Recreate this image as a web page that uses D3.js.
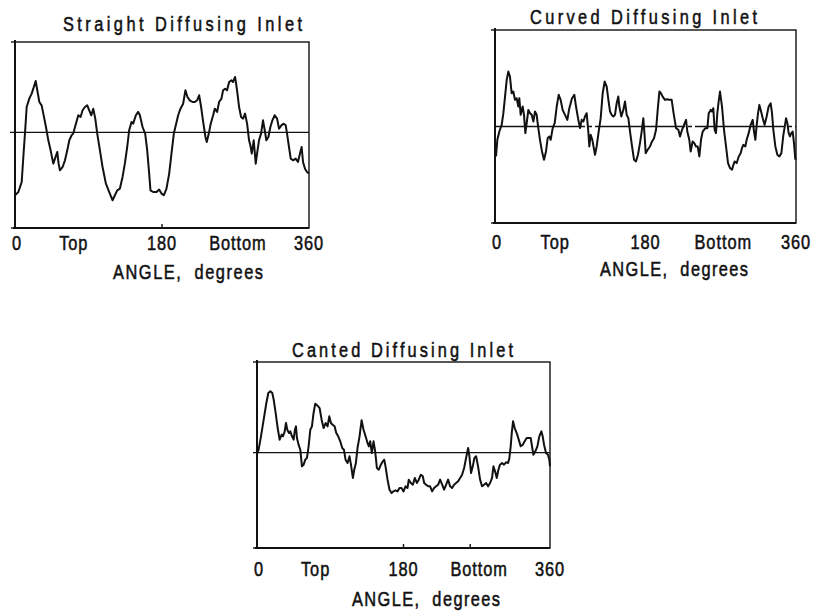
<!DOCTYPE html>
<html><head><meta charset="utf-8">
<script src="https://cdn.jsdelivr.net/npm/d3@7"></script>
<style>
body{margin:0;background:#fff}
svg{display:block}
text{font-family:"Liberation Sans","DejaVu Sans",sans-serif;fill:#111;stroke:#111;stroke-width:0.55px}
</style>
</head><body>
<svg id="c" width="819" height="612"></svg>
<script>
// ---------- data ----------
const titles = ["Straight Diffusing Inlet", "Curved Diffusing Inlet", "Canted Diffusing Inlet"];
const axisTitle = "ANGLE,  degrees";
const tickValues = [0, 72, 180, 273, 360];
const tickLabels = ["0", "Top", "180", "Bottom", "360"];
const yDomains = [[-102.9, 97.1], [-100, 100], [-102.5, 97.5]];

const straightAngle = [0,4.1,8.2,10.2,12.2,14.3,17.5,20.4,22.4,25.3,27.3,29.8,32.6,34.7,37.9,40.8,43.6,46.9,49.7,51.8,53.4,55.0,58.3,61.2,64.0,66.5,69.3,71.3,74.6,77.5,80.3,82.8,85.6,88.5,90.9,93.4,95.8,98.3,100.7,104.0,107.2,111.3,115.4,119.5,122.3,125.2,128.4,131.7,134.5,137.4,139.8,142.7,144.7,148.0,150.8,152.9,156.2,159.4,161.9,164.3,165.9,169.2,173.3,176.5,179.4,182.2,185.5,188.8,191.6,194.5,196.9,199.8,202.6,205.9,208.7,211.2,214.0,217.3,220.2,223.0,225.5,227.9,230.4,233.2,234.8,237.3,239.7,242.6,244.6,247.5,249.9,252.8,254.8,257.3,259.7,262.2,265.0,267.0,269.5,271.9,274.4,276.8,279.3,281.7,284.2,286.6,288.2,289.9,292.3,294.8,296.4,298.8,301.3,303.7,305.8,307.8,310.3,312.7,315.2,318.0,320.9,323.3,326.2,329.0,331.5,333.1,335.5,337.6,340.4,343.7,346.5,349.4,351.0,352.7,355.1,357.6,360];
const straightValue = [-67.7,-64.2,-53.4,-26.5,-1.4,27.2,36.2,41.6,46.9,55.2,45.2,32.6,29.0,20.1,5.7,-8.6,-19.4,-33.7,-26.5,-21.1,-33.7,-40.9,-37.3,-30.1,-19.4,-8.6,-3.2,-1.4,9.3,18.3,16.5,23.7,27.2,29.0,23.7,18.3,25.4,14.7,-1.4,-19.4,-37.3,-55.2,-64.2,-73.1,-67.7,-62.4,-60.6,-48.0,-33.7,-15.8,2.2,11.1,9.3,18.3,21.9,18.3,5.7,-1.4,-19.4,-44.4,-62.4,-64.2,-64.2,-61.6,-65.9,-67.7,-60.6,-44.4,-22.9,-1.4,7.5,18.3,25.4,30.8,45.2,38.0,34.4,32.6,32.6,34.4,39.8,27.2,11.1,-5.0,-10.4,-1.4,9.3,18.3,25.4,21.9,32.6,36.2,45.2,46.9,45.2,54.1,55.9,54.1,59.5,45.2,27.2,16.5,14.7,20.1,9.3,-8.6,-14.0,-22.9,-8.6,-33.7,-22.9,-8.6,-1.4,12.9,2.2,-8.6,-5.0,5.7,12.9,18.3,14.7,3.9,7.5,9.3,7.5,-1.4,-15.8,-28.3,-30.1,-28.3,-31.9,-21.1,-15.8,-31.9,-39.1,-42.7,-44.4];

const curvedAngle = [1.2,2.8,5.2,8.0,10.0,12.0,14.0,15.9,17.9,19.9,21.9,23.9,25.9,27.9,29.1,30.7,33.1,34.7,36.3,37.9,39.9,41.9,43.9,45.9,47.8,49.8,51.8,53.8,56.2,58.6,61.0,63.0,65.0,66.6,69.0,71.4,73.8,76.2,78.5,80.9,83.7,86.5,88.9,92.1,94.9,96.9,99.3,101.7,103.7,105.7,107.6,109.6,111.6,112.8,114.4,116.4,119.6,121.6,124.0,126.4,128.8,131.2,133.6,135.6,137.6,139.5,141.5,143.5,145.5,147.5,148.7,151.1,153.5,155.5,157.5,159.5,161.5,163.9,166.3,168.6,171.0,173.4,175.4,177.4,179.0,180.2,182.6,185.4,187.8,190.2,192.6,194.6,196.6,198.5,200.5,203.3,206.1,208.5,211.3,213.3,216.5,219.3,221.3,223.7,226.1,228.5,230.0,232.4,234.0,236.4,238.4,240.4,242.4,244.4,246.4,248.4,250.0,251.6,254.0,255.6,258.0,259.5,261.1,262.7,264.3,265.9,267.5,269.1,271.5,273.9,276.3,278.7,281.1,283.5,285.1,286.7,289.1,291.5,293.8,295.4,297.0,299.4,301.0,303.4,305.8,308.2,309.8,311.4,313.0,314.6,316.2,317.8,320.2,322.5,324.9,327.3,329.7,331.3,332.9,335.3,337.7,340.1,342.5,344.9,346.9,348.1,349.7,351.2,352.8,354.4,356.0,357.6,359.2];
const curvedValue = [-31.0,-13.8,-5.2,1.7,13.8,31.0,48.3,56.9,51.7,34.5,36.2,27.6,29.3,20.7,29.3,12.1,20.7,12.1,-6.9,3.4,17.2,13.8,12.1,5.2,15.5,12.1,-1.7,-13.8,-25.9,-34.5,-25.9,-12.1,-10.3,-13.8,-1.7,3.4,20.7,32.8,27.6,17.2,12.1,6.9,19.0,29.3,32.8,20.7,8.6,-1.7,6.9,5.2,10.3,13.8,-5.2,-20.7,-8.6,-13.8,-29.3,-20.7,-5.2,8.6,34.5,46.6,41.4,27.6,15.5,12.1,10.3,12.1,24.1,31.0,20.7,10.3,17.2,25.9,12.1,8.6,-5.2,-20.7,-34.5,-36.2,-29.3,-17.2,-5.2,8.6,-10.3,-27.6,-24.1,-20.7,-15.5,-12.1,-3.4,17.2,36.2,34.5,31.0,27.6,28.3,27.6,27.6,15.5,-1.7,-3.4,-10.3,-3.4,1.7,6.9,-5.2,-13.8,-25.9,-15.5,-17.2,-20.7,-20.7,-31.0,-13.8,-5.2,-3.4,-1.7,-1.7,13.8,17.2,15.5,19.0,-3.4,-6.9,13.8,25.9,36.2,20.7,-3.4,-20.7,-37.9,-43.1,-44.8,-39.7,-36.2,-37.9,-31.0,-27.6,-22.4,-19.0,-20.7,-13.8,-6.9,1.7,6.9,-5.2,-13.8,1.7,13.8,22.4,17.2,8.6,1.7,10.3,20.7,24.1,13.8,-3.4,-20.7,-29.3,-31.0,-27.6,-8.6,1.7,8.6,3.4,-6.9,-10.3,-6.9,-5.2,-17.2,-34.5];

const cantedAngle = [0,2.0,4.9,8.2,11.5,13.9,16.4,18.8,20.5,22.9,25.4,27.8,30.3,31.9,34.0,35.6,37.2,39.3,40.9,43.0,45.0,46.6,47.9,49.1,51.1,53.2,55.2,57.3,59.3,61.4,63.4,65.5,67.5,69.5,71.6,74.5,76.9,79.4,81.8,84.3,86.7,88.8,90.8,92.9,95.3,97.4,99.8,102.3,104.7,106.8,108.8,111.3,113.7,115.8,117.8,119.5,121.5,123.5,126.0,128.5,130.9,133.4,135.8,137.5,139.1,141.1,143.2,145.2,147.3,149.7,152.2,154.6,156.3,157.9,160.4,162.8,165.3,167.7,170.2,172.6,175.1,177.5,180.0,182.5,184.9,186.5,189.0,191.5,193.9,196.4,198.8,201.3,203.7,205.4,207.8,210.3,212.7,215.2,217.6,220.1,222.6,225.0,227.5,229.9,232.4,234.8,237.3,239.7,242.2,244.6,247.1,249.6,252.0,254.5,256.9,259.4,261.0,263.0,265.1,267.1,269.2,271.6,274.1,276.5,279.0,281.5,283.9,286.4,288.8,290.5,292.5,294.6,296.6,298.6,301.1,303.5,306.0,308.5,310.1,311.7,313.0,314.6,316.6,319.1,321.6,324.0,326.5,328.9,331.4,333.8,336.3,337.9,339.6,342.0,344.5,346.9,349.4,351.0,352.7,355.1,357.5,359.2,360];
const cantedValue = [-1.1,3.2,17.6,35.5,53.4,64.2,65.9,64.2,57.0,42.7,26.5,14.0,19.4,17.6,22.9,31.9,24.7,21.1,22.9,17.6,14.0,24.7,28.3,15.8,8.6,3.2,-14.7,-12.9,-7.5,-5.7,6.8,24.7,28.3,42.7,52.7,50.5,48.0,35.5,26.5,31.9,28.3,39.1,31.9,30.1,28.3,21.1,17.6,12.2,5.0,3.2,-7.5,-11.1,-3.9,-14.7,-27.2,-18.3,-11.1,5.0,17.6,34.8,24.7,17.6,10.4,6.8,12.2,-0.4,12.2,1.4,-16.5,-18.3,-12.9,-9.3,-7.5,-14.7,-29.0,-39.8,-43.4,-41.6,-40.5,-41.6,-38.0,-38.0,-41.6,-36.2,-38.0,-29.0,-32.6,-34.4,-27.2,-32.6,-29.0,-23.7,-25.4,-32.6,-34.4,-36.2,-36.2,-41.6,-38.0,-36.2,-34.4,-29.0,-34.4,-39.8,-34.4,-29.0,-36.2,-38.0,-34.4,-32.6,-30.8,-27.2,-23.7,-16.5,-5.7,5.0,-3.9,-21.9,-14.7,-5.7,-3.9,-14.7,-29.0,-36.2,-34.4,-32.6,-36.2,-32.6,-27.2,-14.7,-20.1,-27.2,-18.3,-12.9,-11.1,-12.9,-10.4,-11.1,-5.7,6.8,21.1,33.7,26.5,21.1,14.0,6.8,8.6,12.2,15.8,15.8,15.8,6.8,-2.2,1.4,6.8,17.6,22.9,17.6,8.6,-0.4,-2.2,-7.5,-14.7];

// ---------- layout ----------
const panels = [
  {title: titles[0], ang: straightAngle, val: straightValue, dom: yDomains[0],
   x0: 15, x1: 309, y0: 42, y1: 228, tX: 182.5, tY: 31, tW: 239,
   labY: 250, aX: 188, aY: 279, aW: 150, dash: null, midLeft: 5, marks: [180]},
  {title: titles[1], ang: curvedAngle, val: curvedValue, dom: yDomains[1],
   x0: 495, x1: 796, y0: 30, y1: 223, tX: 643.5, tY: 24, tW: 227,
   labY: 249, aX: 674, aY: 276, aW: 148, dash: "90,3,4,3", midLeft: 0, marks: []},
  {title: titles[2], ang: cantedAngle, val: cantedValue, dom: yDomains[2],
   x0: 257, x1: 550, y0: 362, y1: 548, tX: 402.5, tY: 357, tW: 221,
   labY: 575.5, aX: 426, aY: 606, aW: 148, dash: null, midLeft: 4, marks: [180, 262]}
];

const C = 0.78;       // horizontal glyph compression (condensed lettering)
const FS = 21;

function label(g, txt, cx, by, w) {
  const t = g.append("text")
    .attr("font-size", FS)
    .attr("transform", `translate(${cx},${by}) scale(${C},1)`)
    .style("white-space", "pre")
    .text(txt);
  if (w) {
    t.attr("x", -w / C / 2).attr("textLength", w / C).attr("lengthAdjust", "spacing");
  } else {
    t.attr("text-anchor", "middle").attr("letter-spacing", 1.2);
  }
  return t;
}

const svg = d3.select("#c");
svg.append("rect").attr("width", 819).attr("height", 612).attr("fill", "#fff");

panels.forEach(p => {
  const g = svg.append("g");
  const x = d3.scaleLinear().domain([0, 360]).range([p.x0, p.x1]);
  const y = d3.scaleLinear().domain(p.dom).range([p.y1, p.y0]);

  g.append("rect").attr("x", p.x0).attr("y", p.y0)
    .attr("width", p.x1 - p.x0).attr("height", p.y1 - p.y0)
    .attr("fill", "none").attr("stroke", "#111").attr("stroke-width", 1.4);
  g.append("line").attr("x1", p.x0).attr("x2", p.x0).attr("y1", p.y0 - 2).attr("y2", p.y1 + 1)
    .attr("stroke", "#111").attr("stroke-width", 2);
  g.append("line").attr("x1", p.x0 - 2).attr("x2", p.x1).attr("y1", p.y1).attr("y2", p.y1)
    .attr("stroke", "#111").attr("stroke-width", 1.8);
  [p.dom[1], p.dom[0]].forEach(v => {
    g.append("line").attr("x1", p.x0 - 4).attr("x2", p.x0).attr("y1", y(v)).attr("y2", y(v))
      .attr("stroke", "#111").attr("stroke-width", 1.4);
  });
  p.marks.forEach(a => {
    g.append("line").attr("x1", x(a)).attr("x2", x(a)).attr("y1", p.y1).attr("y2", p.y1 - 4)
      .attr("stroke", "#111").attr("stroke-width", 1.4);
  });
  g.append("line").attr("x1", p.x0 - p.midLeft).attr("x2", p.x1).attr("y1", y(0)).attr("y2", y(0))
    .attr("stroke", "#111").attr("stroke-width", 1.3)
    .attr("stroke-dasharray", p.dash);

  const data = p.ang.map((a, i) => [a, p.val[i]]);
  g.append("path").datum(data)
    .attr("d", d3.line().x(d => x(d[0])).y(d => y(d[1])))
    .attr("fill", "none").attr("stroke", "#111").attr("stroke-width", 2)
    .attr("stroke-linejoin", "round");

  tickValues.forEach((v, i) => {
    label(g, tickLabels[i], x(v) + (v === 0 ? 2 : 0), p.labY);
  });
  label(g, axisTitle, p.aX, p.aY, p.aW);
  label(g, p.title, p.tX, p.tY, p.tW);
});
</script>
</body></html>
